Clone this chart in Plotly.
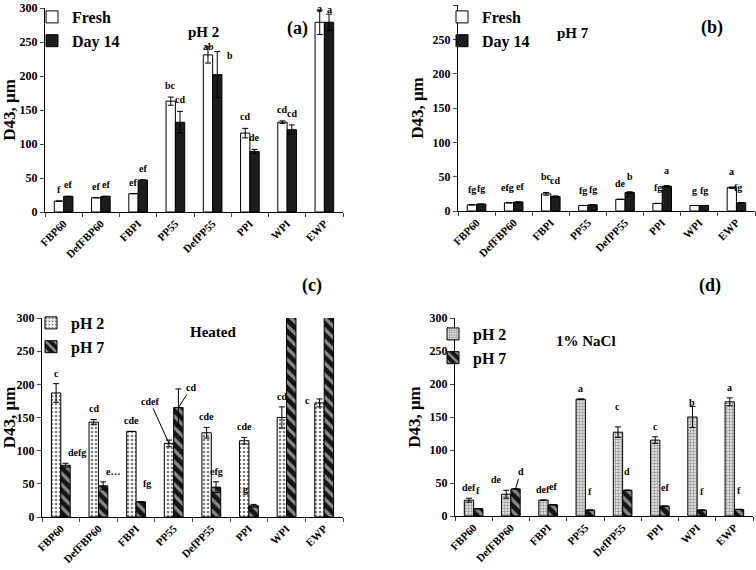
import plotly.graph_objects as go

categories = ["FBP60", "DefFBP60", "FBPI", "PP55", "DefPP55", "PPI", "WPI", "EWP"]

# Panel (a) pH 2
a_fresh = [16, 21, 27, 163, 231, 116, 132, 279]
a_fresh_err = [0, 0, 0, 6, 12, 7, 2, 18]
a_day14 = [23, 23, 47, 132, 202, 89, 121, 279]
a_day14_err = [0, 0, 0, 16, 34, 3, 7, 12]
a_fresh_lbl = ["f", "ef", "ef", "bc", "ab", "cd", "cd", "a"]
a_day14_lbl = ["ef", "ef", "ef", "cd", "b", "de", "cd", "a"]

# Panel (b) pH 7
b_fresh = [9, 12, 25, 8, 17, 11, 8, 34]
b_fresh_err = [0, 0, 2, 0, 0, 0, 0, 1]
b_day14 = [10, 13, 21, 9, 27, 36, 8, 12]
b_day14_err = [0, 0, 1, 0, 1, 1, 0, 0]
b_fresh_lbl = ["fg", "efg", "bc", "fg", "de", "fg", "g", "a"]
b_day14_lbl = ["fg", "ef", "cd", "fg", "b", "a", "fg", "fg"]

# Panel (c) Heated
c_ph2 = [187, 143, 129, 111, 127, 115, 150, 172]
c_ph2_err = [14, 4, 0, 5, 8, 5, 16, 6]
c_ph7 = [78, 47, 23, 165, 45, 17, 400, 400]
c_ph7_err = [3, 6, 0, 28, 8, 2, 0, 0]
c_ph2_lbl = ["c", "cd", "cde", "cdef", "cde", "cde", "cd", "c"]
c_ph7_lbl = ["defg", "e…", "fg", "cd", "efg", "g", "", ""]

# Panel (d) 1% NaCl
d_ph2 = [24, 33, 24, 177, 127, 115, 150, 173]
d_ph2_err = [3, 6, 0, 0, 8, 5, 16, 6]
d_ph7 = [11, 41, 17, 9, 39, 15, 9, 10]
d_ph7_err = [0, 0, 0, 0, 0, 0, 0, 0]
d_ph2_lbl = ["def", "de", "def", "a", "c", "c", "b", "a"]
d_ph7_lbl = ["f", "d", "ef", "f", "d", "ef", "f", "f"]

yticks = [0, 50, 100, 150, 200, 250, 300]

FONT = "Liberation Serif"
W, H = 756, 570


def px_x(p):
    return p / W


def px_y(p):
    return 1 - p / H


fig = go.Figure()

ebar = dict(type="data", color="black", thickness=1, width=3)


def add_bar(name, vals, errs, xa, ya, legend, marker):
    fig.add_trace(go.Bar(
        x=categories, y=vals, name=name, xaxis=xa, yaxis=ya,
        error_y=dict(array=errs, visible=True, **ebar),
        marker=marker, legend=legend, legendgroup=legend + name,
        cliponaxis=True,
    ))


white = dict(color="white", line=dict(color="black", width=1))
dark = dict(color="#1c1c1c", line=dict(color="black", width=1))
dots = dict(color="white", line=dict(color="black", width=1),
            pattern=dict(shape=".", fgcolor="black", bgcolor="white", size=4, solidity=0.35))
dense = dict(color="white", line=dict(color="black", width=1),
             pattern=dict(shape="+", fgcolor="#555", bgcolor="#ddd", size=3, solidity=0.4))
stripes = dict(color="#141414", line=dict(color="black", width=1),
               pattern=dict(shape="\\", fgcolor="white", bgcolor="#141414", size=8, solidity=0.4))

add_bar("Fresh", a_fresh, a_fresh_err, "x", "y", "legend", white)
add_bar("Day 14", a_day14, a_day14_err, "x", "y", "legend", dark)
add_bar("Fresh", b_fresh, b_fresh_err, "x2", "y2", "legend2", white)
add_bar("Day 14", b_day14, b_day14_err, "x2", "y2", "legend2", dark)
add_bar("pH 2", c_ph2, c_ph2_err, "x3", "y3", "legend3", dots)
add_bar("pH 7", c_ph7, c_ph7_err, "x3", "y3", "legend3", stripes)
add_bar("pH 2", d_ph2, d_ph2_err, "x4", "y4", "legend4", dense)
add_bar("pH 7", d_ph7, d_ph7_err, "x4", "y4", "legend4", stripes)

domains = {
    "": ((45, 343), (8, 212)),
    "2": ((458, 755), (5, 211)),
    "3": ((42, 343), (318, 517)),
    "4": ((455, 753), (318, 516)),
}

tickfont = dict(family=FONT, size=12, color="black", weight="bold")
xtickfont = dict(family=FONT, size=11, color="black", weight="bold")
for k, ((x0, x1), (y0, y1)) in domains.items():
    fig.update_layout(**{
        "xaxis" + k: dict(domain=[px_x(x0), px_x(x1)], anchor="y" + k,
                          showline=True, linecolor="black", linewidth=1,
                          ticks="outside", ticklen=4, tickson="boundaries",
                          tickangle=-45, tickfont=xtickfont, showgrid=False,
                          range=[-0.5, 7.5], fixedrange=True, automargin=False),
        "yaxis" + k: dict(domain=[px_y(y1), px_y(y0)], anchor="x" + k,
                          range=[0, 300], tickvals=yticks, showline=True,
                          linecolor="black", linewidth=1, ticks="outside", ticklen=4,
                          tickfont=tickfont, showgrid=False, zeroline=False,
                          automargin=False, fixedrange=True,
                          title=dict(text="D43, μm", standoff=4,
                                     font=dict(family=FONT, size=17, color="black", weight="bold"))),
    })

legfont = dict(family=FONT, size=16, color="black", weight="bold")


def leg(xp, yp):
    return dict(x=px_x(xp), y=px_y(yp), xanchor="left", yanchor="top",
                font=legfont, bgcolor="rgba(0,0,0,0)", tracegroupgap=8,
                itemwidth=30, traceorder="normal")


fig.update_layout(
    width=W, height=H, margin=dict(l=0, r=0, t=0, b=0, autoexpand=False),
    paper_bgcolor="white", plot_bgcolor="white",
    barmode="group", bargap=0.5, bargroupgap=0,
    showlegend=True,
    legend=leg(32, 0),
    legend2=leg(442, 0),
    legend3=leg(31, 306),
    legend4=leg(433, 317),
)

anns = []


def txt(text, x, y, size):
    anns.append(dict(text=text, x=px_x(x), y=px_y(y), xref="paper", yref="paper",
                     showarrow=False, font=dict(family=FONT, size=size, color="black", weight="bold")))


txt("pH 2", 186, 22, 15)
txt("(a)", 297, 16, 18)
txt("pH 7", 591, 23, 15)
txt("(b)", 725, 15, 18)
txt("Heated", 188, 332, 15)
txt("(c)", 312, 285, 18)
txt("1% NaCl", 618, 341, 15)
txt("(d)", 723, 285, 18)

# label placement tweaks (panel, series, index) -> (xshift, yshift)
shifts = {
    ("a", 0, 4): (1, -11),
    ("a", 1, 4): (13, -15),
    ("a", 0, 7): (0, -10),
    ("a", 1, 7): (0, -7),
    ("b", 0, 1): (-2, 0),
    ("b", 1, 1): (2, 0),
    ("b", 1, 7): (-3, 0),
    ("c", 1, 0): (11, 0),
    ("c", 1, 1): (10, 0),
    ("c", 1, 2): (6, 8),
    ("c", 1, 5): (-8, 4),
    ("c", 0, 7): (-12, -12),
    ("d", 0, 1): (-10, 0),
    ("d", 0, 4): (0, 10),
    ("d", 0, 6): (0, -7),
}
# labels drawn with a leader line: (ax, ay) offsets in pixels
arrows = {
    ("c", 0, 3): (-19, -42),
    ("c", 1, 3): (13, -20),
    ("d", 1, 1): (5, -17),
}
base_shift = {"a": 4, "b": 8, "c": 3, "d": 3}
axis_key = {"a": "", "b": "2", "c": "3", "d": "4"}


def add_labels(p, s, vals, errs, lbls):
    k = axis_key[p]
    off = -0.125 if s == 0 else 0.125
    for i, (v, e, l) in enumerate(zip(vals, errs, lbls)):
        if not l:
            continue
        font = dict(family=FONT, size=10, color="black", weight="bold")
        if (p, s, i) in arrows:
            ax, ay = arrows[(p, s, i)]
            anns.append(dict(text=l, x=i + off, y=min(v, 300), xref="x" + k, yref="y" + k,
                             showarrow=True, arrowhead=0, arrowwidth=1, arrowcolor="black",
                             ax=ax, ay=ay, font=font))
            continue
        dx, dy = shifts.get((p, s, i), (0, 0))
        extra = 8 if (p == "d" and s == 1) else 0
        anns.append(dict(text=l, x=i + off, y=min(v + e, 300), xref="x" + k, yref="y" + k,
                         showarrow=False, yanchor="bottom",
                         xshift=dx, yshift=base_shift[p] + dy + extra, font=font))


add_labels("a", 0, a_fresh, a_fresh_err, a_fresh_lbl)
add_labels("a", 1, a_day14, a_day14_err, a_day14_lbl)
add_labels("b", 0, b_fresh, b_fresh_err, b_fresh_lbl)
add_labels("b", 1, b_day14, b_day14_err, b_day14_lbl)
add_labels("c", 0, c_ph2, c_ph2_err, c_ph2_lbl)
add_labels("c", 1, c_ph7, c_ph7_err, c_ph7_lbl)
add_labels("d", 0, d_ph2, d_ph2_err, d_ph2_lbl)
add_labels("d", 1, d_ph7, d_ph7_err, d_ph7_lbl)

fig.update_layout(annotations=anns)
fig.write_html(
    "out.html",
    config={"displayModeBar": False},
    post_script="document.body.style.margin='0';document.body.style.padding='0';document.body.style.overflow='hidden';",
)
